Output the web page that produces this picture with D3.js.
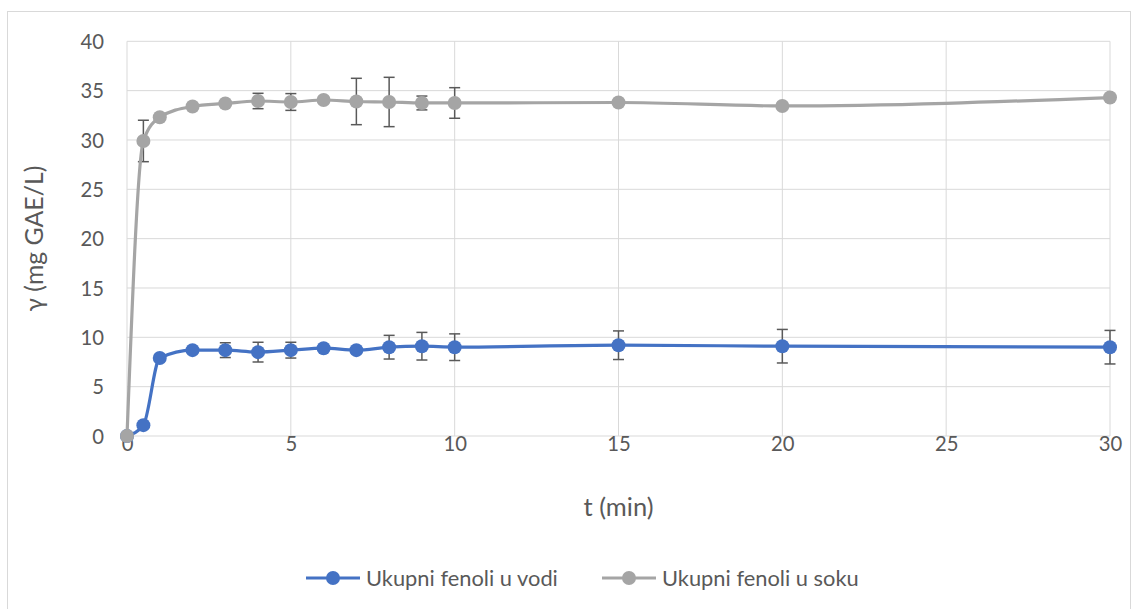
<!DOCTYPE html>
<html><head><meta charset="utf-8">
<script src="https://cdn.jsdelivr.net/npm/d3@7"></script>
<style>body{margin:0;background:#fff}svg{display:block}</style>
</head><body>
<svg id="c" width="1138" height="609"></svg>
<script>
const times = [0, 0.5, 1, 2, 3, 4, 5, 6, 7, 8, 9, 10, 15, 20, 30];
const vodi = [0, 1.1, 7.9, 8.7, 8.7, 8.5, 8.7, 8.9, 8.7, 9.0, 9.1, 9.0, 9.2, 9.1, 9.0];
const vodiErr = [0, 0, 0, 0, 0.75, 1.0, 0.8, 0, 0, 1.2, 1.4, 1.35, 1.45, 1.7, 1.7];
const soku = [0, 29.9, 32.3, 33.4, 33.7, 33.95, 33.85, 34.05, 33.9, 33.85, 33.75, 33.75, 33.8, 33.45, 34.3];
const sokuErr = [0, 2.1, 0, 0, 0, 0.78, 0.85, 0, 2.35, 2.5, 0.7, 1.55, 0, 0, 0];
const xTicks = [0, 5, 10, 15, 20, 25, 30];
const yTicks = [0, 5, 10, 15, 20, 25, 30, 35, 40];
const seriesNames = ["Ukupni fenoli u vodi", "Ukupni fenoli u soku"];

const svg = d3.select("#c");
const font = "Lato, 'Open Sans', sans-serif";
const grid = "#d9d9d9", txt = "#595959";
const L = 127, R = 1110, T = 41.3, B = 436;
const x = d3.scaleLinear().domain([0, 30]).range([L, R]);
const y = d3.scaleLinear().domain([0, 40]).range([B, T]);

function fit(sel, target) {
  const n = sel.node();
  const fs = parseFloat(n.style.fontSize);
  const w = n.getComputedTextLength();
  return fs * target / w;
}

svg.append("rect").attr("x", 7.5).attr("y", 11.5).attr("width", 1123).attr("height", 640)
  .attr("fill", "none").attr("stroke", grid);

svg.append("g").selectAll("line").data(yTicks).join("line")
  .attr("x1", L).attr("x2", R).attr("y1", d => y(d)).attr("y2", d => y(d))
  .attr("stroke", grid).attr("stroke-width", 1);
svg.append("g").selectAll("line").data(xTicks).join("line")
  .attr("y1", T).attr("y2", B).attr("x1", d => x(d)).attr("x2", d => x(d))
  .attr("stroke", grid).attr("stroke-width", 1);

const probe = svg.append("text").style("font-family", font).style("font-size", "20px").text("40");
const tickFs = fit(probe, 23.5);
probe.remove();

const yAxis = svg.append("g").attr("transform", `translate(${L},0)`)
  .call(d3.axisLeft(y).tickValues(yTicks).tickSize(0).tickPadding(23));
const xAxis = svg.append("g").attr("transform", `translate(0,${B})`)
  .call(d3.axisBottom(x).tickValues(xTicks).tickSize(0).tickPadding(3));
[yAxis, xAxis].forEach(a => {
  a.select(".domain").remove();
  a.selectAll("text").attr("fill", txt).style("font-family", font).style("font-size", tickFs + "px");
});
xAxis.selectAll("text").attr("dy", "0.6em");
yAxis.selectAll("text").attr("dy", "0.35em");

const xt = svg.append("text").attr("x", (L + R) / 2).attr("y", 516).attr("text-anchor", "middle")
  .attr("fill", txt).style("font-family", font).style("font-size", "20px").text("t (min)");
xt.style("font-size", fit(xt, 70) + "px");
const yt = svg.append("text").attr("transform", `translate(43,${(T + B) / 2}) rotate(-90)`)
  .attr("text-anchor", "middle").attr("fill", txt).style("font-family", font)
  .style("font-size", "20px").text("γ (mg GAE/L)");
yt.style("font-size", fit(yt, 146) + "px");

const colors = ["#4472C4", "#A5A5A5"];
const series = [
  {vals: vodi, err: vodiErr, color: colors[0]},
  {vals: soku, err: sokuErr, color: colors[1]}
];
const line = d3.line().x(d => x(d[0])).y(d => y(d[1])).curve(d3.curveMonotoneX);

series.forEach(s => {
  const pts = times.map((t, i) => [t, s.vals[i], s.err[i]]);
  const eb = svg.append("g").attr("stroke", "#595959").attr("stroke-width", 1.5);
  pts.filter(p => p[2] > 0).forEach(p => {
    eb.append("line").attr("x1", x(p[0])).attr("x2", x(p[0]))
      .attr("y1", y(p[1] - p[2])).attr("y2", y(p[1] + p[2]));
    [p[1] - p[2], p[1] + p[2]].forEach(v => eb.append("line")
      .attr("x1", x(p[0]) - 5.5).attr("x2", x(p[0]) + 5.5).attr("y1", y(v)).attr("y2", y(v)));
  });
});
series.forEach(s => {
  const pts = times.map((t, i) => [t, s.vals[i]]);
  svg.append("path").datum(pts).attr("d", line).attr("fill", "none")
    .attr("stroke", s.color).attr("stroke-width", 3.2).attr("stroke-linejoin", "round");
  svg.append("g").selectAll("circle").data(pts).join("circle")
    .attr("cx", d => x(d[0])).attr("cy", d => y(d[1])).attr("r", 7).attr("fill", s.color);
});

const lg = [{x0: 306, x1: 360, tx: 366}, {x0: 602, x1: 656, tx: 662}];
let legFs = null;
lg.forEach((g, i) => {
  const yy = 578;
  svg.append("line").attr("x1", g.x0).attr("x2", g.x1).attr("y1", yy).attr("y2", yy)
    .attr("stroke", colors[i]).attr("stroke-width", 3.2);
  svg.append("circle").attr("cx", (g.x0 + g.x1) / 2).attr("cy", yy).attr("r", 7).attr("fill", colors[i]);
  const t = svg.append("text").attr("x", g.tx).attr("y", yy).attr("dy", "0.35em").attr("fill", txt)
    .style("font-family", font).style("font-size", "20px").text(seriesNames[i]);
  if (legFs === null) legFs = fit(t, 192);
  t.style("font-size", legFs + "px");
});
</script>
</body></html>
